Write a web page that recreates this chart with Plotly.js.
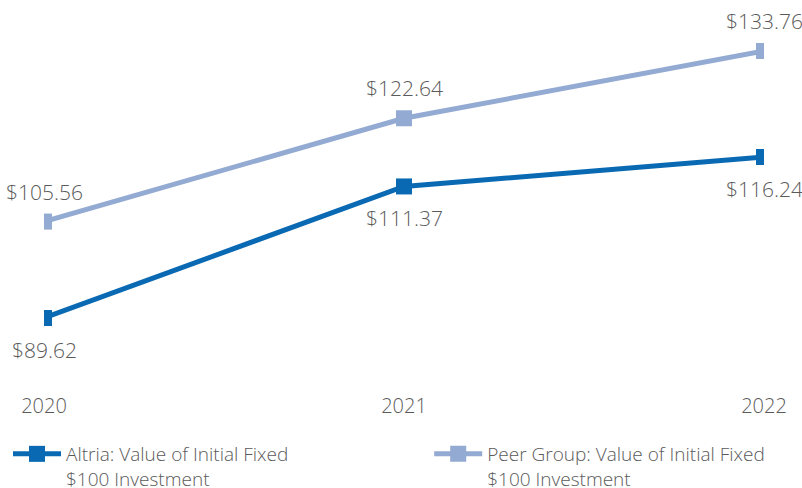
<!DOCTYPE html>
<html>
<head>
<meta charset="utf-8">
<script src="https://cdn.plot.ly/plotly-3.0.1.min.js"></script>
<style>
  html, body { margin: 0; padding: 0; background: #fff; }
  #root { width: 802px; height: 488px; }
</style>
</head>
<body>
<div id="root"></div>
<script>
// anni e valori dell'investimento iniziale di $100
var years = [2020, 2021, 2022];
var altria = [89.62, 111.37, 116.24];
var peer = [105.56, 122.64, 133.76];

var altriaName = 'Altria: Value of Initial Fixed<br>$100 Investment';
var peerName = 'Peer Group: Value of Initial Fixed<br>$100 Investment';

var altriaColor = '#0a69b3';
var peerColor = '#93aad2';
var textColor = '#5a5a5a';

function money(v) {
    return '$' + v.toFixed(2);
}

var traceAltria = {
    x: years,
    y: altria,
    name: altriaName,
    legend: 'legend',
    mode: 'lines+markers',
    type: 'scatter',
    line: { color: altriaColor, width: 5 },
    marker: { symbol: 'square', size: 16, color: altriaColor }
};

var tracePeer = {
    x: years,
    y: peer,
    name: peerName,
    legend: 'legend2',
    mode: 'lines+markers',
    type: 'scatter',
    line: { color: peerColor, width: 5 },
    marker: { symbol: 'square', size: 16, color: peerColor }
};

// etichette sopra (peer) e sotto (altria)
var annotations = [];
for (let i = 0; i < years.length; i++) {
    annotations.push({
        x: years[i], y: peer[i], text: money(peer[i]),
        showarrow: false, yshift: 30, xanchor: 'center',
        font: { size: 21, color: textColor, weight: 300 }
    });
    annotations.push({
        x: years[i], y: altria[i], text: money(altria[i]),
        showarrow: false, yshift: -32, xanchor: 'center',
        font: { size: 21, color: textColor, weight: 300 }
    });
}

function legendBox(x) {
    return {
        x: x,
        xanchor: 'left',
        y: -0.125,
        yanchor: 'top',
        valign: 'top',
        itemwidth: 48,
        font: { size: 19, color: textColor, weight: 300 },
        bgcolor: 'rgba(0,0,0,0)'
    };
}

var layout = {
    width: 802,
    height: 488,
    margin: { l: 44, r: 38, t: 30, b: 98, autoexpand: false },
    paper_bgcolor: '#fff',
    plot_bgcolor: '#fff',
    font: { family: 'Open Sans, sans-serif', color: textColor, weight: 300 },
    showlegend: true,
    xaxis: {
        range: [2020, 2022],
        tickvals: years,
        ticktext: years.map(String),
        showgrid: false,
        zeroline: false,
        showline: false,
        tickfont: { size: 20, color: textColor, weight: 300 },
        ticklabelstandoff: 2
    },
    yaxis: {
        range: [77.72, 137.23],
        visible: false,
        showgrid: false,
        zeroline: false
    },
    legend: legendBox(-0.05),
    legend2: legendBox(0.535),
    annotations: annotations
};

Plotly.newPlot('root', [traceAltria, tracePeer], layout, { displayModeBar: false, staticPlot: true });
</script>
</body>
</html>
